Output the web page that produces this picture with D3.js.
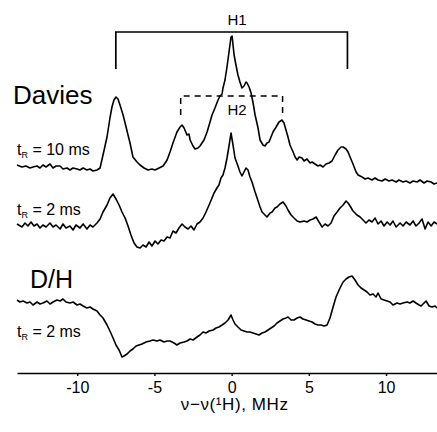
<!DOCTYPE html>
<html><head><meta charset="utf-8">
<script src="https://cdn.jsdelivr.net/npm/d3@7"></script>
<style>
body{margin:0;background:#fff}
svg{display:block}
text{font-family:"Liberation Sans",Arial,Helvetica,sans-serif;fill:#000}
</style>
</head><body>
<svg id="chart" width="437" height="432"></svg>
<script>
// ---- data (frequency offset in MHz, intensity in a.u. relative to each trace baseline) ----
const daviesLong = [[-13.90,0.8],[-13.58,0.6],[-13.32,0.7],[-13.06,0.5],[-12.86,0.6],[-12.60,0.7],[-12.41,0.5],[-12.22,0.8],[-12.02,0.6],[-11.76,0.9],
[-11.57,0.5],[-11.37,0.7],[-11.11,0.7],[-10.92,0.4],[-10.66,0.5],[-10.47,0.3],[-10.27,0.5],[-10.01,0.4],[-9.82,0.3],[-9.62,0.5],
[-9.37,0.3],[-9.17,0.4],[-8.98,0.2],[-8.72,0.3],[-8.52,0.5],[-8.33,1.8],[-8.07,3.6],[-7.88,5.5],[-7.75,6.6],[-7.62,7.3],
[-7.49,7.6],[-7.36,7.4],[-7.23,6.8],[-7.03,5.8],[-6.90,5.0],[-6.71,3.8],[-6.58,3.0],[-6.39,1.6],[-6.13,1.1],[-5.93,0.8],
[-5.67,0.5],[-5.41,0.3],[-5.16,0.4],[-4.96,0.3],[-4.70,0.5],[-4.44,0.7],[-4.18,1.3],[-3.99,2.1],[-3.80,3.0],[-3.54,4.1],
[-3.34,4.6],[-3.21,4.8],[-3.08,4.5],[-2.89,3.8],[-2.76,3.9],[-2.69,3.3],[-2.50,2.7],[-2.37,2.4],[-2.18,2.5],[-2.05,2.7],
[-1.79,3.3],[-1.59,4.1],[-1.40,5.1],[-1.27,5.8],[-1.08,6.5],[-0.88,7.3],[-0.75,7.7],[-0.62,7.9],[-0.56,8.5],[-0.43,9.3],
[-0.30,10.6],[-0.17,12.1],[-0.04,13.6],[0.03,13.7],[0.09,12.8],[0.16,11.8],[0.28,10.8],[0.41,9.8],[0.54,9.1],[0.67,8.5],
[0.80,8.7],[0.93,9.1],[1.00,9.0],[1.13,8.6],[1.26,8.0],[1.39,7.0],[1.52,5.8],[1.71,4.5],[1.84,3.3],[2.03,2.8],
[2.16,2.7],[2.29,3.0],[2.42,3.1],[2.55,3.6],[2.68,4.1],[2.88,4.6],[3.07,5.1],[3.26,5.3],[3.39,5.0],[3.52,4.3],
[3.65,3.6],[3.78,2.8],[3.98,2.1],[4.11,1.6],[4.24,1.3],[4.37,1.6],[4.56,1.5],[4.69,1.2],[4.88,1.4],[5.08,1.0],
[5.21,1.1],[5.40,0.9],[5.60,0.7],[5.73,0.8],[5.92,0.6],[6.11,0.9],[6.31,1.0],[6.50,1.2],[6.70,1.8],[6.89,2.3],
[7.09,2.6],[7.22,2.6],[7.41,2.4],[7.54,2.1],[7.67,1.6],[7.86,0.9],[8.06,0.1],[8.19,-0.2],[8.45,-0.4],[8.64,-0.6],
[8.83,-0.5],[9.09,-0.7],[9.29,-0.5],[9.48,-0.7],[9.74,-0.8],[9.94,-0.6],[10.19,-0.8],[10.39,-0.7],[10.65,-0.9],[10.84,-0.7],
[11.10,-0.9],[11.30,-0.8],[11.55,-1.0],[11.75,-0.8],[12.01,-0.9],[12.20,-0.7],[12.46,-1.0],[12.66,-0.8],[12.92,-0.9],[13.11,-1.1],
[13.30,-1.0]];

const daviesShort = [[-13.90,-0.1],[-13.58,-0.4],[-13.38,0.0],[-13.19,-0.3],[-12.99,0.1],[-12.80,-0.3],[-12.60,-0.1],[-12.41,-0.5],[-12.22,-0.2],[-12.02,-0.4],
[-11.76,0.0],[-11.57,-0.4],[-11.37,-0.2],[-11.11,-0.6],[-10.92,-0.1],[-10.73,-0.5],[-10.47,-0.3],[-10.27,-0.7],[-10.08,-0.2],[-9.82,-0.5],
[-9.62,-0.1],[-9.37,-0.6],[-9.17,-0.2],[-8.98,-0.4],[-8.72,0.0],[-8.52,0.4],[-8.33,1.1],[-8.07,1.8],[-7.88,2.5],[-7.68,2.9],
[-7.49,2.4],[-7.29,1.8],[-7.10,1.1],[-6.90,0.5],[-6.71,-0.3],[-6.52,-1.2],[-6.32,-2.0],[-6.13,-2.4],[-5.93,-2.5],[-5.74,-2.2],
[-5.54,-2.4],[-5.35,-1.9],[-5.16,-2.3],[-4.96,-1.8],[-4.77,-2.1],[-4.57,-1.7],[-4.38,-1.8],[-4.18,-1.4],[-3.99,-1.5],[-3.80,-0.8],
[-3.60,-1.0],[-3.41,-0.5],[-3.21,-0.1],[-3.02,-0.4],[-2.82,-0.6],[-2.63,-0.3],[-2.44,-0.7],[-2.24,-0.1],[-2.05,0.1],[-1.85,0.5],
[-1.66,1.1],[-1.46,1.8],[-1.27,2.5],[-1.14,3.0],[-0.95,3.5],[-0.82,3.8],[-0.69,4.5],[-0.56,4.8],[-0.43,5.5],[-0.30,6.5],
[-0.17,7.7],[-0.04,9.0],[0.09,7.8],[0.22,6.5],[0.41,5.7],[0.54,5.1],[0.67,4.7],[0.80,5.1],[0.93,5.5],[1.06,5.3],
[1.19,4.6],[1.32,4.1],[1.52,3.1],[1.65,2.5],[1.84,1.6],[1.97,1.1],[2.16,0.8],[2.29,0.6],[2.49,1.0],[2.62,1.1],
[2.81,1.5],[2.94,1.6],[3.13,1.9],[3.33,2.1],[3.52,1.7],[3.65,1.3],[3.85,0.8],[4.04,0.5],[4.24,0.2],[4.43,0.1],
[4.69,0.2],[4.88,0.1],[5.08,0.3],[5.27,0.4],[5.47,0.6],[5.66,0.1],[5.86,-0.4],[6.05,-0.1],[6.24,-0.3],[6.44,0.0],
[6.63,0.7],[6.83,1.1],[7.02,1.5],[7.22,1.8],[7.41,2.2],[7.54,2.0],[7.67,1.7],[7.86,1.2],[8.12,0.8],[8.32,0.6],
[8.51,0.3],[8.70,0.0],[8.90,0.3],[9.09,0.1],[9.29,0.5],[9.48,-0.1],[9.68,0.2],[9.87,-0.3],[10.07,0.1],[10.26,-0.2],
[10.45,0.2],[10.65,-0.4],[10.91,0.0],[11.10,-0.3],[11.30,0.1],[11.55,-0.2],[11.75,0.2],[11.94,-0.3],[12.14,0.0],[12.33,0.4],
[12.53,-0.6],[12.72,0.1],[12.92,-0.3],[13.11,0.1],[13.30,-0.1]];

const dhShort = [[-13.90,0.3],[-13.71,0.1],[-13.51,0.2],[-13.25,0.0],[-13.06,0.1],[-12.86,-0.2],[-12.60,0.1],[-12.41,-0.1],[-12.22,0.0],[-11.96,0.2],
[-11.76,-0.1],[-11.57,0.1],[-11.31,0.3],[-11.11,0.2],[-10.92,0.4],[-10.73,0.1],[-10.47,0.0],[-10.27,0.1],[-10.01,-0.2],[-9.82,-0.1],
[-9.62,-0.3],[-9.37,-0.5],[-9.17,-0.4],[-8.98,-0.6],[-8.72,-0.8],[-8.52,-1.2],[-8.33,-1.5],[-8.07,-2.2],[-7.88,-2.8],[-7.68,-3.5],
[-7.49,-4.2],[-7.29,-4.7],[-7.10,-5.4],[-6.97,-5.3],[-6.77,-5.1],[-6.58,-4.8],[-6.39,-4.6],[-6.19,-4.3],[-6.00,-4.2],[-5.80,-4.1],
[-5.54,-3.9],[-5.29,-3.8],[-5.09,-3.7],[-4.83,-3.8],[-4.64,-3.7],[-4.38,-3.9],[-4.18,-3.8],[-3.99,-3.8],[-3.73,-4.0],[-3.54,-4.2],
[-3.34,-4.0],[-3.08,-3.9],[-2.89,-3.8],[-2.69,-3.6],[-2.50,-3.7],[-2.24,-3.4],[-2.05,-3.2],[-1.85,-2.9],[-1.66,-3.0],[-1.46,-2.8],
[-1.20,-2.7],[-1.01,-2.5],[-0.82,-2.4],[-0.62,-2.2],[-0.43,-2.0],[-0.23,-1.7],[-0.04,-1.2],[0.09,-1.7],[0.22,-2.1],[0.41,-2.4],
[0.61,-2.7],[0.80,-2.8],[1.00,-2.9],[1.19,-2.9],[1.39,-3.0],[1.58,-3.1],[1.77,-3.2],[1.97,-3.0],[2.16,-2.9],[2.36,-2.7],
[2.55,-2.5],[2.75,-2.3],[2.94,-2.0],[3.13,-1.8],[3.33,-1.6],[3.52,-1.5],[3.65,-1.4],[3.85,-1.7],[4.04,-1.7],[4.24,-1.5],
[4.43,-1.4],[4.62,-1.6],[4.82,-1.7],[5.01,-1.8],[5.21,-1.9],[5.40,-2.1],[5.60,-2.2],[5.79,-2.2],[5.99,-2.3],[6.18,-2.2],
[6.37,-1.5],[6.57,-0.4],[6.76,0.6],[7.02,1.5],[7.22,2.1],[7.41,2.4],[7.60,2.6],[7.80,2.7],[7.99,2.3],[8.19,1.8],
[8.38,1.5],[8.58,1.3],[8.77,1.1],[8.96,0.8],[9.16,0.9],[9.35,0.6],[9.48,1.0],[9.68,0.4],[9.87,0.3],[10.07,0.2],
[10.26,0.1],[10.45,-0.2],[10.71,0.0],[10.91,-0.1],[11.10,0.0],[11.36,0.1],[11.55,0.0],[11.75,0.2],[11.94,0.0],[12.14,-0.2],
[12.27,-0.3],[12.46,0.0],[12.59,0.2],[12.79,-0.3],[12.98,-0.4],[13.17,-0.3],[13.30,-0.5]];

const traceOffsets = [20, 15, 7];            // vertical stacking offsets (a.u.)
const recoveryTimes = ["10 ms", "2 ms", "2 ms"];
const groupNames = ["Davies", "D/H"];
const xTicks = [-10, -5, 0, 5, 10];
const couplingLabels = ["H1", "H2"];
const couplingHalfWidths = [7.5, 3.3];       // MHz
const axisTitle = "\u03bd\u2212\u03bd(\u00b9H), MHz";

// ---- layout ----
const svg = d3.select("#chart");
const x = d3.scaleLinear().domain([-13.9, 13.3]).range([17, 437]);
const y = d3.scaleLinear().domain([0, 35]).range([373, 23]);

const traces = [daviesLong, daviesShort, dhShort];
const line = d3.line().x(d => x(d[0]));

traces.forEach((t, i) => {
  svg.append("path")
    .datum(t)
    .attr("fill", "none")
    .attr("stroke", "#000")
    .attr("stroke-width", 1.6)
    .attr("stroke-linejoin", "round")
    .attr("d", line.y(d => y(d[1] + traceOffsets[i])));
});

// axis
const ax = svg.append("g")
  .attr("transform", "translate(0,373)")
  .call(d3.axisBottom(x).tickValues(xTicks).tickSize(3).tickSizeOuter(0).tickPadding(6).tickFormat(d => String(d)));
ax.select(".domain").attr("stroke", "#000").attr("stroke-width", 1.6);
ax.selectAll(".tick line").attr("stroke", "#000").attr("stroke-width", 1.4);
ax.selectAll(".tick text").attr("font-size", 16).attr("font-family", "Liberation Sans, Arial, sans-serif").attr("fill", "#000");

svg.append("text")
  .attr("x", x(0.2)).attr("y", 410)
  .attr("text-anchor", "middle").attr("font-size", 17)
  .attr("letter-spacing", 0.6)
  .text(axisTitle);

// group labels
svg.append("text").attr("x", 13).attr("y", 104).attr("font-size", 26).text(groupNames[0]);
svg.append("text").attr("x", 30).attr("y", 288).attr("font-size", 25).text(groupNames[1]);

// recovery time labels
const tLabelY = [155, 215, 337];
recoveryTimes.forEach((tr, i) => {
  const t = svg.append("text").attr("x", 17).attr("y", tLabelY[i]).attr("font-size", 16);
  t.append("tspan").text("t");
  t.append("tspan").attr("font-size", 9).attr("dy", 3).text("R");
  t.append("tspan").attr("dy", -3).text(" = " + tr);
});

// coupling brackets
const bracketTop = [32, 96];
const bracketBottom = [69, 115];
const labelY = [25, 115];
couplingLabels.forEach((lab, i) => {
  const h = couplingHalfWidths[i];
  const pts = [[x(-h), bracketBottom[i]], [x(-h), bracketTop[i]], [x(h), bracketTop[i]], [x(h), bracketBottom[i]]];
  svg.append("path")
    .attr("d", d3.line()(pts))
    .attr("fill", "none")
    .attr("stroke", "#000")
    .attr("stroke-width", i === 0 ? 1.7 : 1.5)
    .attr("stroke-dasharray", i === 0 ? null : "6,5");
  svg.append("text")
    .attr("x", x(0.35)).attr("y", labelY[i])
    .attr("text-anchor", "middle").attr("font-size", 15)
    .text(lab);
});
</script>
</body></html>
